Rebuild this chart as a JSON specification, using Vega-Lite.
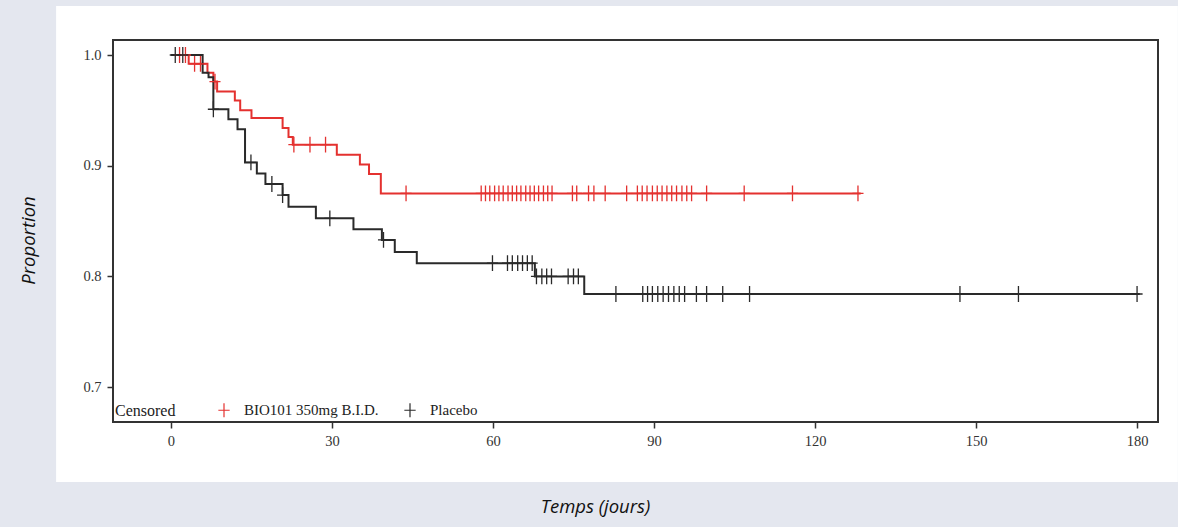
{
  "$schema": "https://vega.github.io/schema/vega-lite/v6.json",
  "width": 1045,
  "height": 382,
  "autosize": {"type": "none"},
  "padding": {"left": 113, "top": 40, "right": 20, "bottom": 105},
  "background": "#e4e7ef",
  "config": {"view": {"stroke": null}, "axis": {"zindex": 1}, "legend": {"zindex": 1}},
  "datasets": {
    "km": [
      {"g": "BIO101 350mg B.I.D.", "k": "step", "t": 0, "s": 1.0},
      {"g": "BIO101 350mg B.I.D.", "k": "step", "t": 3.3, "s": 0.992},
      {"g": "BIO101 350mg B.I.D.", "k": "step", "t": 6.8, "s": 0.984},
      {"g": "BIO101 350mg B.I.D.", "k": "step", "t": 7.9, "s": 0.976},
      {"g": "BIO101 350mg B.I.D.", "k": "step", "t": 8.6, "s": 0.967},
      {"g": "BIO101 350mg B.I.D.", "k": "step", "t": 11.9, "s": 0.959},
      {"g": "BIO101 350mg B.I.D.", "k": "step", "t": 12.9, "s": 0.950},
      {"g": "BIO101 350mg B.I.D.", "k": "step", "t": 15.0, "s": 0.943},
      {"g": "BIO101 350mg B.I.D.", "k": "step", "t": 20.8, "s": 0.934},
      {"g": "BIO101 350mg B.I.D.", "k": "step", "t": 21.9, "s": 0.926},
      {"g": "BIO101 350mg B.I.D.", "k": "step", "t": 22.7, "s": 0.919},
      {"g": "BIO101 350mg B.I.D.", "k": "step", "t": 30.9, "s": 0.910},
      {"g": "BIO101 350mg B.I.D.", "k": "step", "t": 35.2, "s": 0.901},
      {"g": "BIO101 350mg B.I.D.", "k": "step", "t": 36.9, "s": 0.8925},
      {"g": "BIO101 350mg B.I.D.", "k": "step", "t": 39.1, "s": 0.875},
      {"g": "BIO101 350mg B.I.D.", "k": "step", "t": 128.5, "s": 0.875},
      {"g": "BIO101 350mg B.I.D.", "k": "censor", "t": 1.6, "s": 1.0},
      {"g": "BIO101 350mg B.I.D.", "k": "censor", "t": 2.7, "s": 1.0},
      {"g": "BIO101 350mg B.I.D.", "k": "censor", "t": 4.4, "s": 0.992},
      {"g": "BIO101 350mg B.I.D.", "k": "censor", "t": 5.5, "s": 0.992},
      {"g": "BIO101 350mg B.I.D.", "k": "censor", "t": 8.2, "s": 0.976},
      {"g": "BIO101 350mg B.I.D.", "k": "censor", "t": 22.9, "s": 0.919},
      {"g": "BIO101 350mg B.I.D.", "k": "censor", "t": 25.9, "s": 0.919},
      {"g": "BIO101 350mg B.I.D.", "k": "censor", "t": 28.8, "s": 0.919},
      {"g": "BIO101 350mg B.I.D.", "k": "censor", "t": 43.8, "s": 0.875},
      {"g": "BIO101 350mg B.I.D.", "k": "censor", "t": 57.8, "s": 0.875},
      {"g": "BIO101 350mg B.I.D.", "k": "censor", "t": 58.6, "s": 0.875},
      {"g": "BIO101 350mg B.I.D.", "k": "censor", "t": 59.4, "s": 0.875},
      {"g": "BIO101 350mg B.I.D.", "k": "censor", "t": 60.3, "s": 0.875},
      {"g": "BIO101 350mg B.I.D.", "k": "censor", "t": 61.1, "s": 0.875},
      {"g": "BIO101 350mg B.I.D.", "k": "censor", "t": 61.9, "s": 0.875},
      {"g": "BIO101 350mg B.I.D.", "k": "censor", "t": 62.8, "s": 0.875},
      {"g": "BIO101 350mg B.I.D.", "k": "censor", "t": 63.6, "s": 0.875},
      {"g": "BIO101 350mg B.I.D.", "k": "censor", "t": 64.4, "s": 0.875},
      {"g": "BIO101 350mg B.I.D.", "k": "censor", "t": 65.2, "s": 0.875},
      {"g": "BIO101 350mg B.I.D.", "k": "censor", "t": 66.1, "s": 0.875},
      {"g": "BIO101 350mg B.I.D.", "k": "censor", "t": 66.9, "s": 0.875},
      {"g": "BIO101 350mg B.I.D.", "k": "censor", "t": 67.7, "s": 0.875},
      {"g": "BIO101 350mg B.I.D.", "k": "censor", "t": 68.5, "s": 0.875},
      {"g": "BIO101 350mg B.I.D.", "k": "censor", "t": 69.4, "s": 0.875},
      {"g": "BIO101 350mg B.I.D.", "k": "censor", "t": 70.2, "s": 0.875},
      {"g": "BIO101 350mg B.I.D.", "k": "censor", "t": 71.0, "s": 0.875},
      {"g": "BIO101 350mg B.I.D.", "k": "censor", "t": 74.8, "s": 0.875},
      {"g": "BIO101 350mg B.I.D.", "k": "censor", "t": 75.6, "s": 0.875},
      {"g": "BIO101 350mg B.I.D.", "k": "censor", "t": 77.8, "s": 0.875},
      {"g": "BIO101 350mg B.I.D.", "k": "censor", "t": 78.8, "s": 0.875},
      {"g": "BIO101 350mg B.I.D.", "k": "censor", "t": 80.9, "s": 0.875},
      {"g": "BIO101 350mg B.I.D.", "k": "censor", "t": 84.9, "s": 0.875},
      {"g": "BIO101 350mg B.I.D.", "k": "censor", "t": 86.9, "s": 0.875},
      {"g": "BIO101 350mg B.I.D.", "k": "censor", "t": 87.8, "s": 0.875},
      {"g": "BIO101 350mg B.I.D.", "k": "censor", "t": 88.7, "s": 0.875},
      {"g": "BIO101 350mg B.I.D.", "k": "censor", "t": 89.7, "s": 0.875},
      {"g": "BIO101 350mg B.I.D.", "k": "censor", "t": 90.6, "s": 0.875},
      {"g": "BIO101 350mg B.I.D.", "k": "censor", "t": 91.5, "s": 0.875},
      {"g": "BIO101 350mg B.I.D.", "k": "censor", "t": 92.4, "s": 0.875},
      {"g": "BIO101 350mg B.I.D.", "k": "censor", "t": 93.3, "s": 0.875},
      {"g": "BIO101 350mg B.I.D.", "k": "censor", "t": 94.2, "s": 0.875},
      {"g": "BIO101 350mg B.I.D.", "k": "censor", "t": 95.2, "s": 0.875},
      {"g": "BIO101 350mg B.I.D.", "k": "censor", "t": 96.1, "s": 0.875},
      {"g": "BIO101 350mg B.I.D.", "k": "censor", "t": 97.0, "s": 0.875},
      {"g": "BIO101 350mg B.I.D.", "k": "censor", "t": 99.8, "s": 0.875},
      {"g": "BIO101 350mg B.I.D.", "k": "censor", "t": 106.8, "s": 0.875},
      {"g": "BIO101 350mg B.I.D.", "k": "censor", "t": 115.8, "s": 0.875},
      {"g": "BIO101 350mg B.I.D.", "k": "censor", "t": 128.0, "s": 0.875},
      {"g": "Placebo", "k": "step", "t": 0, "s": 1.0},
      {"g": "Placebo", "k": "step", "t": 5.9, "s": 0.984},
      {"g": "Placebo", "k": "step", "t": 7.0, "s": 0.980},
      {"g": "Placebo", "k": "step", "t": 7.9, "s": 0.951},
      {"g": "Placebo", "k": "step", "t": 10.7, "s": 0.942},
      {"g": "Placebo", "k": "step", "t": 12.4, "s": 0.933},
      {"g": "Placebo", "k": "step", "t": 13.8, "s": 0.903},
      {"g": "Placebo", "k": "step", "t": 16.0, "s": 0.893},
      {"g": "Placebo", "k": "step", "t": 17.6, "s": 0.8835},
      {"g": "Placebo", "k": "step", "t": 20.8, "s": 0.8735},
      {"g": "Placebo", "k": "step", "t": 21.9, "s": 0.863},
      {"g": "Placebo", "k": "step", "t": 27.0, "s": 0.8525},
      {"g": "Placebo", "k": "step", "t": 34.0, "s": 0.8425},
      {"g": "Placebo", "k": "step", "t": 39.3, "s": 0.833},
      {"g": "Placebo", "k": "step", "t": 41.7, "s": 0.822},
      {"g": "Placebo", "k": "step", "t": 45.8, "s": 0.812},
      {"g": "Placebo", "k": "step", "t": 67.8, "s": 0.800},
      {"g": "Placebo", "k": "step", "t": 77.0, "s": 0.7841},
      {"g": "Placebo", "k": "step", "t": 180.5, "s": 0.7841},
      {"g": "Placebo", "k": "censor", "t": 0.8, "s": 1.0},
      {"g": "Placebo", "k": "censor", "t": 2.2, "s": 1.0},
      {"g": "Placebo", "k": "censor", "t": 7.9, "s": 0.951},
      {"g": "Placebo", "k": "censor", "t": 14.9, "s": 0.903},
      {"g": "Placebo", "k": "censor", "t": 18.8, "s": 0.8835},
      {"g": "Placebo", "k": "censor", "t": 20.8, "s": 0.8735},
      {"g": "Placebo", "k": "censor", "t": 29.6, "s": 0.8525},
      {"g": "Placebo", "k": "censor", "t": 39.6, "s": 0.833},
      {"g": "Placebo", "k": "censor", "t": 59.9, "s": 0.812},
      {"g": "Placebo", "k": "censor", "t": 62.7, "s": 0.812},
      {"g": "Placebo", "k": "censor", "t": 63.6, "s": 0.812},
      {"g": "Placebo", "k": "censor", "t": 64.6, "s": 0.812},
      {"g": "Placebo", "k": "censor", "t": 65.5, "s": 0.812},
      {"g": "Placebo", "k": "censor", "t": 66.4, "s": 0.812},
      {"g": "Placebo", "k": "censor", "t": 67.3, "s": 0.812},
      {"g": "Placebo", "k": "censor", "t": 68.1, "s": 0.800},
      {"g": "Placebo", "k": "censor", "t": 69.1, "s": 0.800},
      {"g": "Placebo", "k": "censor", "t": 70.0, "s": 0.800},
      {"g": "Placebo", "k": "censor", "t": 70.9, "s": 0.800},
      {"g": "Placebo", "k": "censor", "t": 74.0, "s": 0.800},
      {"g": "Placebo", "k": "censor", "t": 75.0, "s": 0.800},
      {"g": "Placebo", "k": "censor", "t": 75.9, "s": 0.800},
      {"g": "Placebo", "k": "censor", "t": 82.9, "s": 0.7841},
      {"g": "Placebo", "k": "censor", "t": 87.9, "s": 0.7841},
      {"g": "Placebo", "k": "censor", "t": 88.8, "s": 0.7841},
      {"g": "Placebo", "k": "censor", "t": 89.7, "s": 0.7841},
      {"g": "Placebo", "k": "censor", "t": 90.7, "s": 0.7841},
      {"g": "Placebo", "k": "censor", "t": 91.7, "s": 0.7841},
      {"g": "Placebo", "k": "censor", "t": 92.7, "s": 0.7841},
      {"g": "Placebo", "k": "censor", "t": 93.7, "s": 0.7841},
      {"g": "Placebo", "k": "censor", "t": 94.7, "s": 0.7841},
      {"g": "Placebo", "k": "censor", "t": 95.7, "s": 0.7841},
      {"g": "Placebo", "k": "censor", "t": 97.9, "s": 0.7841},
      {"g": "Placebo", "k": "censor", "t": 99.8, "s": 0.7841},
      {"g": "Placebo", "k": "censor", "t": 102.8, "s": 0.7841},
      {"g": "Placebo", "k": "censor", "t": 107.8, "s": 0.7841},
      {"g": "Placebo", "k": "censor", "t": 147.0, "s": 0.7841},
      {"g": "Placebo", "k": "censor", "t": 157.9, "s": 0.7841},
      {"g": "Placebo", "k": "censor", "t": 180.0, "s": 0.7841}
    ]
  },
  "layer": [
    {
      "data": {"values": [{}]},
      "mark": {"type": "rect", "fill": "white", "clip": false},
      "encoding": {
        "x": {"datum": -21.4, "type": "quantitative", "scale": {"domain": [-10.8, 183.9], "nice": false, "zero": false}},
        "x2": {"datum": 187.6},
        "y": {"datum": 1.0443, "type": "quantitative", "scale": {"domain": [0.6685, 1.01355], "nice": false, "zero": false}},
        "y2": {"datum": 0.6143}
      }
    },
    {
      "data": {"name": "km"},
      "transform": [{"filter": "datum.k === 'step'"}],
      "mark": {"type": "line", "interpolate": "step-after", "strokeWidth": 2, "clip": false},
      "encoding": {
        "x": {
          "field": "t", "type": "quantitative",
          "scale": {"domain": [-10.8, 183.9], "nice": false, "zero": false},
          "axis": {
            "title": "Temps (jours)", "values": [0, 30, 60, 90, 120, 150, 180],
            "domain": false, "grid": false, "tickSize": 6, "tickColor": "#333333", "tickWidth": 1.5,
            "labelFont": "Liberation Serif", "labelFontSize": 14.5, "labelColor": "#333333", "labelPadding": 6,
            "titleFont": "Open Sans", "titleFontStyle": "italic", "titleFontWeight": "normal", "titleFontSize": 18.5,
            "titleColor": "#111111", "titlePadding": 50, "titleX": 482, "zindex": 1
          }
        },
        "y": {
          "field": "s", "type": "quantitative",
          "scale": {"domain": [0.6685, 1.01355], "nice": false, "zero": false},
          "axis": {
            "title": "Proportion", "values": [0.7, 0.8, 0.9, 1.0], "format": ".1f",
            "domain": false, "grid": false, "tickSize": 6, "tickColor": "#333333", "tickWidth": 1.5,
            "labelFont": "Liberation Serif", "labelFontSize": 14.5, "labelColor": "#333333", "labelPadding": 6,
            "titleFont": "Open Sans", "titleFontStyle": "italic", "titleFontWeight": "normal", "titleFontSize": 18.5,
            "titleColor": "#111111", "titlePadding": 44, "titleY": 200, "zindex": 1
          }
        },
        "color": {
          "field": "g", "type": "nominal",
          "scale": {"domain": ["BIO101 350mg B.I.D.", "Placebo"], "range": ["#e4312f", "#2a2a2a"]},
          "legend": {
            "orient": "bottom-left", "direction": "horizontal", "title": "Censored", "titleOrient": "left",
            "titleFont": "Liberation Serif", "titleFontSize": 16, "titleFontWeight": "normal", "titleColor": "#222222",
            "titlePadding": 40, "labelFont": "Liberation Serif", "labelFontSize": 15, "labelColor": "#222222",
            "symbolType": "M-0.8,0H0.8M0,-1V1", "symbolSize": 200, "symbolStrokeWidth": 1.2,
            "symbolFillColor": "transparent", "labelOffset": 12, "columnPadding": 22, "offset": 0, "padding": 2, "zindex": 1
          }
        }
      }
    },
    {
      "data": {"name": "km"},
      "transform": [{"filter": "datum.k === 'censor'"}],
      "mark": {"type": "point", "shape": "M-0.7,0H0.7M0,-1V1", "filled": false, "size": 250, "strokeWidth": 1.3, "opacity": 1, "clip": false},
      "encoding": {
        "x": {"field": "t", "type": "quantitative", "scale": {"domain": [-10.8, 183.9], "nice": false, "zero": false}},
        "y": {"field": "s", "type": "quantitative", "scale": {"domain": [0.6685, 1.01355], "nice": false, "zero": false}},
        "color": {
          "field": "g", "type": "nominal",
          "scale": {"domain": ["BIO101 350mg B.I.D.", "Placebo"], "range": ["#e4312f", "#2a2a2a"]}
        }
      }
    },
    {
      "data": {"values": [{}]},
      "mark": {"type": "rect", "fill": "transparent", "stroke": "#333333", "strokeWidth": 2, "clip": false},
      "encoding": {
        "x": {"datum": -10.8, "type": "quantitative", "scale": {"domain": [-10.8, 183.9], "nice": false, "zero": false}},
        "x2": {"datum": 183.9},
        "y": {"datum": 1.01355, "type": "quantitative", "scale": {"domain": [0.6685, 1.01355], "nice": false, "zero": false}},
        "y2": {"datum": 0.6685}
      }
    }
  ]
}
